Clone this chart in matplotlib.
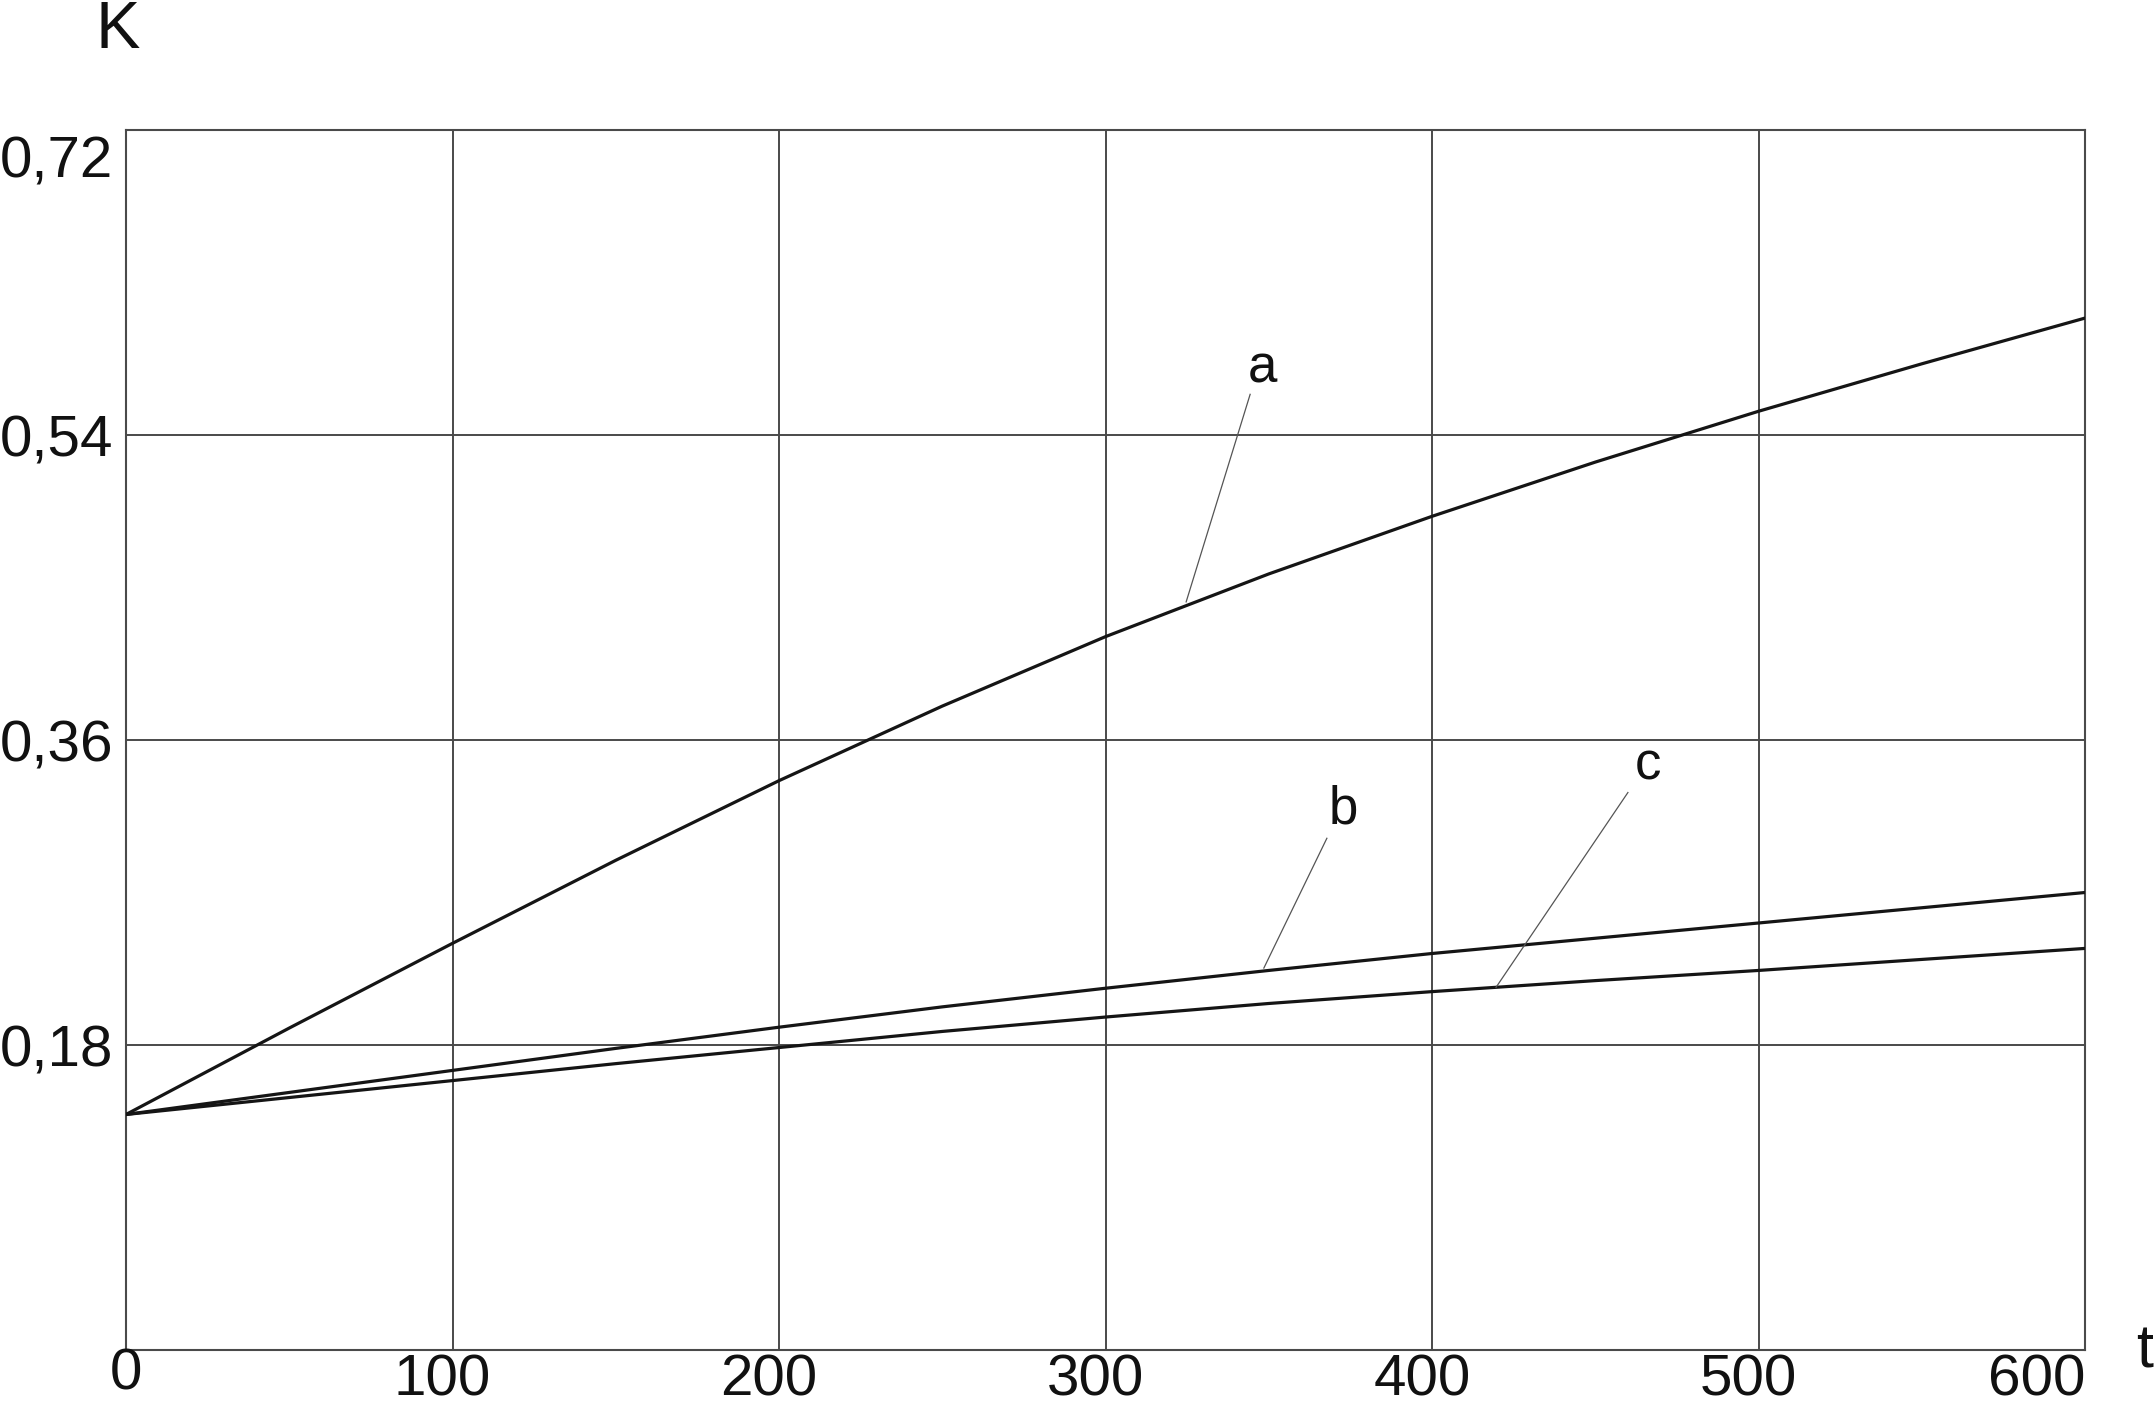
import matplotlib
matplotlib.use("Agg")
import matplotlib.pyplot as plt

plt.rcParams['font.family'] = ['Liberation Sans', 'DejaVu Sans']

# ---- data ----
t_a = [0, 50, 100, 150, 200, 250, 300, 350, 400, 450, 500, 550, 600]
k_a = [0.139, 0.190, 0.240, 0.289, 0.336, 0.380, 0.421, 0.458, 0.492, 0.524, 0.554, 0.582, 0.609]

t_b = [0, 50, 100, 150, 200, 250, 300, 350, 400, 450, 500, 550, 600]
k_b = [0.139, 0.152, 0.165, 0.178, 0.1905, 0.2025, 0.2135, 0.224, 0.234, 0.243, 0.252, 0.261, 0.270]

t_c = [0, 50, 100, 150, 200, 250, 300, 350, 400, 450, 500, 550, 600]
k_c = [0.139, 0.149, 0.159, 0.169, 0.1785, 0.188, 0.1965, 0.2045, 0.2115, 0.218, 0.224, 0.2305, 0.237]

x_ticks = [0, 100, 200, 300, 400, 500, 600]
x_tick_labels = ['0', '100', '200', '300', '400', '500', '600']
y_ticks = [0.18, 0.36, 0.54, 0.72]
y_tick_labels = ['0,18', '0,36', '0,54', '0,72']

curve_names = ['a', 'b', 'c']
label_pos = [(348.2, 0.5707), (372.7, 0.311), (466.0, 0.3364)]
leader_start = [(344.3, 0.564), (367.8, 0.302), (460.0, 0.329)]
leader_end = [(324.7, 0.4415), (348.5, 0.2254), (419.6, 0.214)]

# ---- figure ----
W, H = 2154, 1405
fig = plt.figure(figsize=(W / 100, H / 100), dpi=100)
L, R, T, B = 126, 2085, 130, 1350
ax = fig.add_axes([L / W, 1 - B / H, (R - L) / W, (B - T) / H])
ax.set_xlim(0, 600)
ax.set_ylim(0, 0.72)

grid_c = '#4a4a4a'
for s in ax.spines.values():
    s.set_color(grid_c)
    s.set_linewidth(1.5)

ax.set_xticks(x_ticks)
ax.set_yticks(y_ticks)
ax.set_xticklabels([])
ax.set_yticklabels([])
ax.tick_params(length=0)
ax.grid(True, color=grid_c, linewidth=1.4)
ax.set_axisbelow(True)

line_c = '#151515'
for tt, kk in [(t_a, k_a), (t_b, k_b), (t_c, k_c)]:
    ax.plot(tt, kk, color=line_c, linewidth=2.3, solid_capstyle='round',
            solid_joinstyle='round', zorder=3)

# leader lines and curve labels
for name, (lx, ly), (sx, sy), (ex, ey) in zip(curve_names, label_pos, leader_start, leader_end):
    ax.plot([sx, ex], [sy, ey], color='#555555', linewidth=0.9, zorder=3)
    ax.text(lx, ly, name, fontsize=38, ha='center', va='baseline', color='#111111')

# x tick labels
tick_fs = 42
for v, lab in zip(x_ticks, x_tick_labels):
    if v == 0:
        dx, dy, ha = 0, -40, 'center'
    elif v == 600:
        dx, dy, ha = 0, -46, 'right'
    else:
        dx, dy, ha = -10, -46, 'center'
    ax.annotate(lab, xy=(v, 0), xycoords=('data', 'axes fraction'),
                xytext=(dx, dy), textcoords='offset pixels',
                ha=ha, va='baseline', fontsize=tick_fs, color='#111111',
                annotation_clip=False)

# y tick labels
for v, lab in zip(y_ticks, y_tick_labels):
    dy = -47 if v == 0.72 else -21
    ax.annotate(lab, xy=(0, v), xycoords=('axes fraction', 'data'),
                xytext=(-13, dy), textcoords='offset pixels',
                ha='right', va='baseline', fontsize=tick_fs, color='#111111',
                annotation_clip=False)

# axis names
fig.text(118 / W, 1 - 48 / H, 'K', fontsize=48, ha='center', va='baseline', color='#111111')
fig.text(2136 / W, 1 - 1367 / H, 't', fontsize=44, ha='left', va='baseline', color='#111111')

fig.savefig('out.png', dpi=100, facecolor='white')
